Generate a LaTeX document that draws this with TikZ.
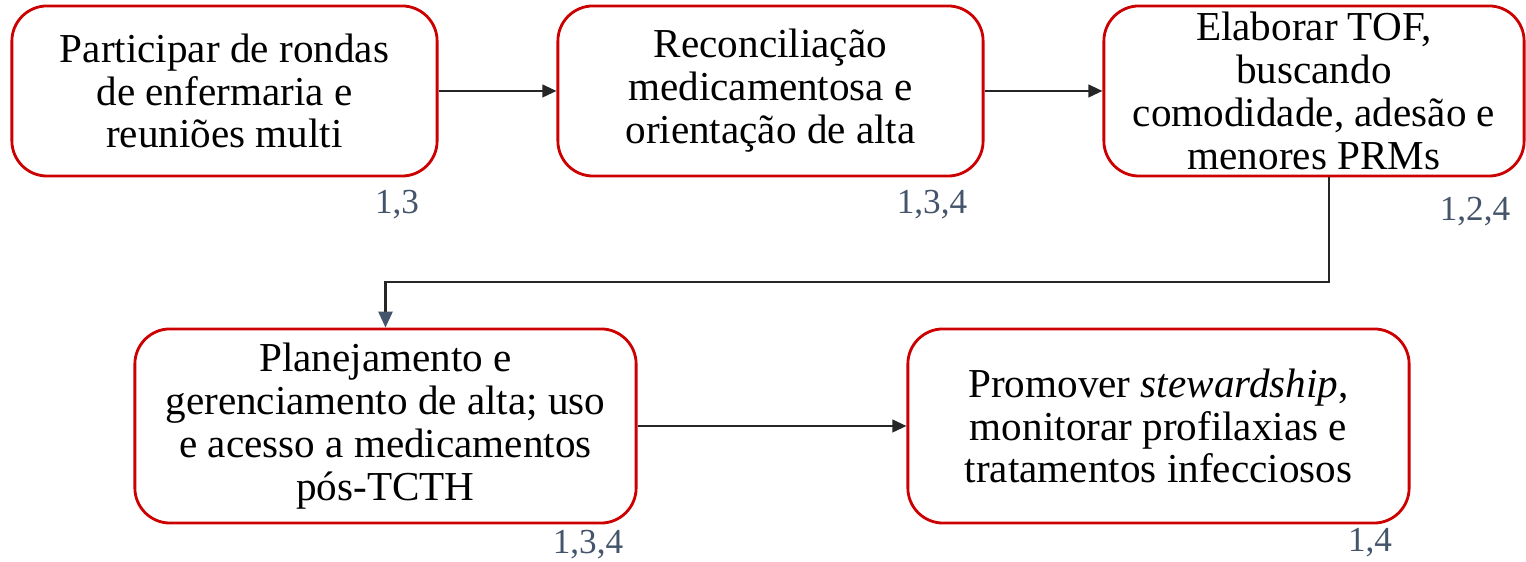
\documentclass[tikz,border=0pt]{standalone}
\usepackage{fontspec}
\setmainfont{Liberation Serif}
\usepackage{tikz}
\usetikzlibrary{arrows.meta, calc}

\definecolor{borda}{RGB}{204,0,0}
\definecolor{seta}{RGB}{38,38,38}
\definecolor{refcor}{RGB}{68,84,106}

\tikzset{
  etapa/.style={draw=borda, line width=0.8pt, rounded corners=10pt, fill=white,
    align=center, inner sep=0pt, font=\fontsize{11.7}{12.2}\selectfont},
  fluxo/.style={draw=seta, line width=0.6pt, -{Triangle[length=4pt, width=3.6pt]}},
  ref/.style={text=refcor, font=\fontsize{10}{12}\selectfont, inner sep=0pt}
}

\begin{document}
\begin{tikzpicture}[x=0.01cm, y=-0.01cm]
            \useasboundingbox (0,0) rectangle (1526,562);

            % Top row
            \node[etapa, minimum width=4.25cm, minimum height=1.70cm] (b1) at (224.5,91)
                {Participar de rondas\\de enfermaria e\\reuniões multi};
            \node[etapa, minimum width=4.25cm, minimum height=1.70cm] (b2) at (770.5,91)
                {Reconciliação\\medicamentosa e\\orientação de alta};
            \node[etapa, minimum width=4.20cm, minimum height=1.70cm] (b3) at (1314,91)
                {Elaborar TOF,\\buscando\\comodidade, adesão e\\menores PRMs};

            % Bottom row
            \node[etapa, minimum width=5.01cm, minimum height=1.94cm] (b4) at (385.5,426)
                {Planejamento e\\gerenciamento de alta; uso\\e acesso a medicamentos\\pós-TCTH};
            \node[etapa, minimum width=5.01cm, minimum height=1.94cm] (b5) at (1158.5,426)
                {Promover \textit{stewardship},\\monitorar profilaxias e\\tratamentos infecciosos};

            % References
            \node[ref] (r1) at (397,205) {1,3};
            \node[ref] (r2) at (932,205) {1,3,4};
            \node[ref] (r3) at (1475,212) {1,2,4};
            \node[ref] (r4) at (588,545) {1,3,4};
            \node[ref] (r5) at (1370,543) {1,4};

            % Arrows
            \draw[fluxo] (b1.east) -- (b2.west);
            \draw[fluxo] (b2.east) -- (b3.west);
            \coordinate (volta) at (1329,282);
            \draw[fluxo, -{Triangle[length=4.5pt, width=4pt, color=refcor, fill=refcor]}]
                (b3.south -| volta) -- (volta) -| (b4.north);
            \draw[fluxo] (b4.east) -- (b5.west);
        \end{tikzpicture}
\end{document}
